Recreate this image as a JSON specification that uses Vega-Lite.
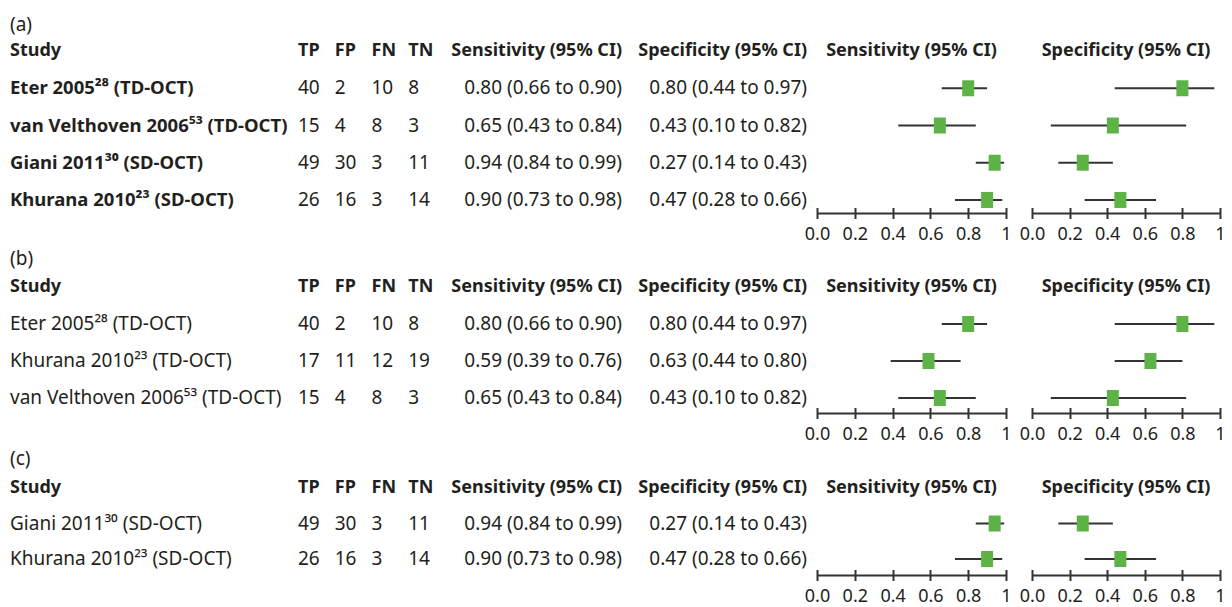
{
"$schema": "https://vega.github.io/schema/vega-lite/v6.json",
"background": "white",
"padding": {"left": 10, "top": 16, "right": 5, "bottom": 5},
"config": {
  "view": {"stroke": null},
  "font": "Noto Sans",
  "text": {"font": "Noto Sans", "fontSize": 19, "color": "#231f20", "baseline": "middle"},
  "title": {"font": "Noto Sans", "fontSize": 19, "fontWeight": "normal", "color": "#231f20", "anchor": "start", "frame": "group", "offset": 3}
},
"datasets": {
  "a": [
    {"r": "1", "study": "Eter 2005\u00b2\u2078 (TD-OCT)", "TP": 40, "FP": 2, "FN": 10, "TN": 8, "se": 0.80, "seLo": 0.66, "seHi": 0.90, "sp": 0.80, "spLo": 0.44, "spHi": 0.97, "seCI": "0.80 (0.66 to 0.90)", "spCI": "0.80 (0.44 to 0.97)"},
    {"r": "2", "study": "van Velthoven 2006\u2075\u00b3 (TD-OCT)", "TP": 15, "FP": 4, "FN": 8, "TN": 3, "se": 0.65, "seLo": 0.43, "seHi": 0.84, "sp": 0.43, "spLo": 0.10, "spHi": 0.82, "seCI": "0.65 (0.43 to 0.84)", "spCI": "0.43 (0.10 to 0.82)"},
    {"r": "3", "study": "Giani 2011\u00b3\u2070 (SD-OCT)", "TP": 49, "FP": 30, "FN": 3, "TN": 11, "se": 0.94, "seLo": 0.84, "seHi": 0.99, "sp": 0.27, "spLo": 0.14, "spHi": 0.43, "seCI": "0.94 (0.84 to 0.99)", "spCI": "0.27 (0.14 to 0.43)"},
    {"r": "4", "study": "Khurana 2010\u00b2\u00b3 (SD-OCT)", "TP": 26, "FP": 16, "FN": 3, "TN": 14, "se": 0.90, "seLo": 0.73, "seHi": 0.98, "sp": 0.47, "spLo": 0.28, "spHi": 0.66, "seCI": "0.90 (0.73 to 0.98)", "spCI": "0.47 (0.28 to 0.66)"}
  ],
  "b": [
    {"r": "1", "study": "Eter 2005\u00b2\u2078 (TD-OCT)", "TP": 40, "FP": 2, "FN": 10, "TN": 8, "se": 0.80, "seLo": 0.66, "seHi": 0.90, "sp": 0.80, "spLo": 0.44, "spHi": 0.97, "seCI": "0.80 (0.66 to 0.90)", "spCI": "0.80 (0.44 to 0.97)"},
    {"r": "2", "study": "Khurana 2010\u00b2\u00b3 (TD-OCT)", "TP": 17, "FP": 11, "FN": 12, "TN": 19, "se": 0.59, "seLo": 0.39, "seHi": 0.76, "sp": 0.63, "spLo": 0.44, "spHi": 0.80, "seCI": "0.59 (0.39 to 0.76)", "spCI": "0.63 (0.44 to 0.80)"},
    {"r": "3", "study": "van Velthoven 2006\u2075\u00b3 (TD-OCT)", "TP": 15, "FP": 4, "FN": 8, "TN": 3, "se": 0.65, "seLo": 0.43, "seHi": 0.84, "sp": 0.43, "spLo": 0.10, "spHi": 0.82, "seCI": "0.65 (0.43 to 0.84)", "spCI": "0.43 (0.10 to 0.82)"}
  ],
  "c": [
    {"r": "1", "study": "Giani 2011\u00b3\u2070 (SD-OCT)", "TP": 49, "FP": 30, "FN": 3, "TN": 11, "se": 0.94, "seLo": 0.84, "seHi": 0.99, "sp": 0.27, "spLo": 0.14, "spHi": 0.43, "seCI": "0.94 (0.84 to 0.99)", "spCI": "0.27 (0.14 to 0.43)"},
    {"r": "2", "study": "Khurana 2010\u00b2\u00b3 (SD-OCT)", "TP": 26, "FP": 16, "FN": 3, "TN": 14, "se": 0.90, "seLo": 0.73, "seHi": 0.98, "sp": 0.47, "spLo": 0.28, "spHi": 0.66, "seCI": "0.90 (0.73 to 0.98)", "spCI": "0.47 (0.28 to 0.66)"}
  ]
},
"columns": 7,
"spacing": {"row": 59, "column": 10},
"bounds": "flush",
"concat": [
   {"width": 278, "height": 175, "title": {"text": "(a)"}, "layer": [
     {"data": {"values": [{"t": "Study"}]}, "mark": {"type": "text", "align": "left", "fontWeight": "bold", "fontSize": 18},
      "encoding": {"x": {"datum": 0, "type": "quantitative", "scale": {"domain": [0, 1]}, "axis": null}, "y": {"datum": "h", "type": "ordinal", "scale": {"type": "point", "domain": ["h", "1", "2", "3", "4"], "padding": 0.35}, "axis": null}, "text": {"field": "t", "type": "nominal"}}},
     {"data": {"name": "a"}, "mark": {"type": "text", "align": "left", "fontWeight": "bold", "fontSize": 18.5},
      "encoding": {"x": {"datum": 0, "type": "quantitative", "scale": {"domain": [0, 1]}, "axis": null}, "y": {"field": "r", "type": "ordinal", "scale": {"type": "point", "domain": ["h", "1", "2", "3", "4"], "padding": 0.35}, "axis": null}, "text": {"field": "study", "type": "nominal"}}}
   ]},
   {"width": 147, "height": 175, "layer": [
     {"data": {"values": [{"k": "TP"}, {"k": "FP"}, {"k": "FN"}, {"k": "TN"}]}, "mark": {"type": "text", "align": "left", "fontWeight": "bold", "fontSize": 18},
      "encoding": {"x": {"field": "k", "type": "nominal", "bandPosition": 0, "scale": {"type": "band", "domain": ["TP", "FP", "FN", "TN"], "paddingInner": 0, "paddingOuter": 0}, "axis": null}, "y": {"datum": "h", "type": "ordinal", "scale": {"type": "point", "domain": ["h", "1", "2", "3", "4"], "padding": 0.35}, "axis": null}, "text": {"field": "k", "type": "nominal"}}},
     {"data": {"name": "a"}, "transform": [{"fold": ["TP", "FP", "FN", "TN"], "as": ["k", "v"]}], "mark": {"type": "text", "align": "left"},
      "encoding": {"x": {"field": "k", "type": "nominal", "bandPosition": 0, "scale": {"type": "band", "domain": ["TP", "FP", "FN", "TN"], "paddingInner": 0, "paddingOuter": 0}, "axis": null}, "y": {"field": "r", "type": "ordinal", "scale": {"type": "point", "domain": ["h", "1", "2", "3", "4"], "padding": 0.35}, "axis": null}, "text": {"field": "v", "type": "nominal"}}}
   ]},
   {"width": 167, "height": 175, "layer": [
     {"data": {"values": [{"t": "Sensitivity (95% CI)"}]}, "mark": {"type": "text", "align": "right", "fontWeight": "bold", "fontSize": 18},
      "encoding": {"x": {"datum": 1, "type": "quantitative", "scale": {"domain": [0, 1]}, "axis": null}, "y": {"datum": "h", "type": "ordinal", "scale": {"type": "point", "domain": ["h", "1", "2", "3", "4"], "padding": 0.35}, "axis": null}, "text": {"field": "t", "type": "nominal"}}},
     {"data": {"name": "a"}, "mark": {"type": "text", "align": "right"},
      "encoding": {"x": {"datum": 1, "type": "quantitative", "scale": {"domain": [0, 1]}, "axis": null}, "y": {"field": "r", "type": "ordinal", "scale": {"type": "point", "domain": ["h", "1", "2", "3", "4"], "padding": 0.35}, "axis": null}, "text": {"field": "seCI", "type": "nominal"}}}
   ]},
   {"width": 175, "height": 175, "layer": [
     {"data": {"values": [{"t": "Specificity (95% CI)"}]}, "mark": {"type": "text", "align": "right", "fontWeight": "bold", "fontSize": 18},
      "encoding": {"x": {"datum": 1, "type": "quantitative", "scale": {"domain": [0, 1]}, "axis": null}, "y": {"datum": "h", "type": "ordinal", "scale": {"type": "point", "domain": ["h", "1", "2", "3", "4"], "padding": 0.35}, "axis": null}, "text": {"field": "t", "type": "nominal"}}},
     {"data": {"name": "a"}, "mark": {"type": "text", "align": "right"},
      "encoding": {"x": {"datum": 1, "type": "quantitative", "scale": {"domain": [0, 1]}, "axis": null}, "y": {"field": "r", "type": "ordinal", "scale": {"type": "point", "domain": ["h", "1", "2", "3", "4"], "padding": 0.35}, "axis": null}, "text": {"field": "spCI", "type": "nominal"}}}
   ]},
   {"width": 189, "height": 175, "resolve": {"axis": {"x": "independent"}}, "layer": [
     {"data": {"values": [{"t": "Sensitivity (95% CI)"}]}, "mark": {"type": "text", "align": "center", "fontWeight": "bold", "fontSize": 18},
      "encoding": {"x": {"datum": 0.5, "type": "quantitative", "scale": {"domain": [0, 1], "nice": false}, "axis": null}, "y": {"datum": "h", "type": "ordinal", "scale": {"type": "point", "domain": ["h", "1", "2", "3", "4"], "padding": 0.35}, "axis": null}, "text": {"field": "t", "type": "nominal"}}},
     {"data": {"name": "a"}, "mark": {"type": "rule", "strokeWidth": 2, "color": "#333333"},
      "encoding": {"x": {"field": "seLo", "type": "quantitative", "scale": {"domain": [0, 1], "nice": false}, "axis": {"orient": "bottom", "values": [0, 0.2, 0.4, 0.6, 0.8, 1], "title": null, "grid": false, "domain": true, "domainColor": "#333333", "domainWidth": 2, "ticks": false, "tickSize": 0, "labelExpr": "datum.value == 1 ? '1' : format(datum.value, '.1f')", "labelFontSize": 18, "labelFont": "Noto Sans", "labelColor": "#231f20", "labelPadding": 12, "labelFlush": false, "labelOverlap": false}}, "x2": {"field": "seHi"}, "y": {"field": "r", "type": "ordinal", "scale": {"type": "point", "domain": ["h", "1", "2", "3", "4"], "padding": 0.35}, "axis": null}}},
     {"data": {"name": "a"}, "mark": {"type": "point", "shape": "M-0.75,-1L0.75,-1L0.75,1L-0.75,1Z", "size": 256, "filled": true, "color": "#5db346", "opacity": 1, "strokeWidth": 0},
      "encoding": {"x": {"field": "se", "type": "quantitative", "scale": {"domain": [0, 1], "nice": false}, "axis": {"orient": "bottom", "values": [0, 0.2, 0.4, 0.6, 0.8, 1], "title": null, "grid": false, "domain": false, "ticks": true, "tickSize": 11, "tickWidth": 2, "tickColor": "#333333", "labels": false, "offset": -5.5}}, "y": {"field": "r", "type": "ordinal", "scale": {"type": "point", "domain": ["h", "1", "2", "3", "4"], "padding": 0.35}, "axis": null}}}
   ]},
   {"width": 6, "height": 175, "data": {"values": []}, "mark": "text", "encoding": {}},
   {"width": 188, "height": 175, "resolve": {"axis": {"x": "independent"}}, "layer": [
     {"data": {"values": [{"t": "Specificity (95% CI)"}]}, "mark": {"type": "text", "align": "center", "fontWeight": "bold", "fontSize": 18},
      "encoding": {"x": {"datum": 0.5, "type": "quantitative", "scale": {"domain": [0, 1], "nice": false}, "axis": null}, "y": {"datum": "h", "type": "ordinal", "scale": {"type": "point", "domain": ["h", "1", "2", "3", "4"], "padding": 0.35}, "axis": null}, "text": {"field": "t", "type": "nominal"}}},
     {"data": {"name": "a"}, "mark": {"type": "rule", "strokeWidth": 2, "color": "#333333"},
      "encoding": {"x": {"field": "spLo", "type": "quantitative", "scale": {"domain": [0, 1], "nice": false}, "axis": {"orient": "bottom", "values": [0, 0.2, 0.4, 0.6, 0.8, 1], "title": null, "grid": false, "domain": true, "domainColor": "#333333", "domainWidth": 2, "ticks": false, "tickSize": 0, "labelExpr": "datum.value == 1 ? '1' : format(datum.value, '.1f')", "labelFontSize": 18, "labelFont": "Noto Sans", "labelColor": "#231f20", "labelPadding": 12, "labelFlush": false, "labelOverlap": false}}, "x2": {"field": "spHi"}, "y": {"field": "r", "type": "ordinal", "scale": {"type": "point", "domain": ["h", "1", "2", "3", "4"], "padding": 0.35}, "axis": null}}},
     {"data": {"name": "a"}, "mark": {"type": "point", "shape": "M-0.75,-1L0.75,-1L0.75,1L-0.75,1Z", "size": 256, "filled": true, "color": "#5db346", "opacity": 1, "strokeWidth": 0},
      "encoding": {"x": {"field": "sp", "type": "quantitative", "scale": {"domain": [0, 1], "nice": false}, "axis": {"orient": "bottom", "values": [0, 0.2, 0.4, 0.6, 0.8, 1], "title": null, "grid": false, "domain": false, "ticks": true, "tickSize": 11, "tickWidth": 2, "tickColor": "#333333", "labels": false, "offset": -5.5}}, "y": {"field": "r", "type": "ordinal", "scale": {"type": "point", "domain": ["h", "1", "2", "3", "4"], "padding": 0.35}, "axis": null}}}
   ]},

   {"width": 278, "height": 141, "title": {"text": "(b)"}, "layer": [
     {"data": {"values": [{"t": "Study"}]}, "mark": {"type": "text", "align": "left", "fontWeight": "bold", "fontSize": 18},
      "encoding": {"x": {"datum": 0, "type": "quantitative", "scale": {"domain": [0, 1]}, "axis": null}, "y": {"datum": "h", "type": "ordinal", "scale": {"type": "point", "domain": ["h", "1", "2", "3"], "padding": 0.405}, "axis": null}, "text": {"field": "t", "type": "nominal"}}},
     {"data": {"name": "b"}, "mark": {"type": "text", "align": "left"},
      "encoding": {"x": {"datum": 0, "type": "quantitative", "scale": {"domain": [0, 1]}, "axis": null}, "y": {"field": "r", "type": "ordinal", "scale": {"type": "point", "domain": ["h", "1", "2", "3"], "padding": 0.405}, "axis": null}, "text": {"field": "study", "type": "nominal"}}}
   ]},
   {"width": 147, "height": 141, "layer": [
     {"data": {"values": [{"k": "TP"}, {"k": "FP"}, {"k": "FN"}, {"k": "TN"}]}, "mark": {"type": "text", "align": "left", "fontWeight": "bold", "fontSize": 18},
      "encoding": {"x": {"field": "k", "type": "nominal", "bandPosition": 0, "scale": {"type": "band", "domain": ["TP", "FP", "FN", "TN"], "paddingInner": 0, "paddingOuter": 0}, "axis": null}, "y": {"datum": "h", "type": "ordinal", "scale": {"type": "point", "domain": ["h", "1", "2", "3"], "padding": 0.405}, "axis": null}, "text": {"field": "k", "type": "nominal"}}},
     {"data": {"name": "b"}, "transform": [{"fold": ["TP", "FP", "FN", "TN"], "as": ["k", "v"]}], "mark": {"type": "text", "align": "left"},
      "encoding": {"x": {"field": "k", "type": "nominal", "bandPosition": 0, "scale": {"type": "band", "domain": ["TP", "FP", "FN", "TN"], "paddingInner": 0, "paddingOuter": 0}, "axis": null}, "y": {"field": "r", "type": "ordinal", "scale": {"type": "point", "domain": ["h", "1", "2", "3"], "padding": 0.405}, "axis": null}, "text": {"field": "v", "type": "nominal"}}}
   ]},
   {"width": 167, "height": 141, "layer": [
     {"data": {"values": [{"t": "Sensitivity (95% CI)"}]}, "mark": {"type": "text", "align": "right", "fontWeight": "bold", "fontSize": 18},
      "encoding": {"x": {"datum": 1, "type": "quantitative", "scale": {"domain": [0, 1]}, "axis": null}, "y": {"datum": "h", "type": "ordinal", "scale": {"type": "point", "domain": ["h", "1", "2", "3"], "padding": 0.405}, "axis": null}, "text": {"field": "t", "type": "nominal"}}},
     {"data": {"name": "b"}, "mark": {"type": "text", "align": "right"},
      "encoding": {"x": {"datum": 1, "type": "quantitative", "scale": {"domain": [0, 1]}, "axis": null}, "y": {"field": "r", "type": "ordinal", "scale": {"type": "point", "domain": ["h", "1", "2", "3"], "padding": 0.405}, "axis": null}, "text": {"field": "seCI", "type": "nominal"}}}
   ]},
   {"width": 175, "height": 141, "layer": [
     {"data": {"values": [{"t": "Specificity (95% CI)"}]}, "mark": {"type": "text", "align": "right", "fontWeight": "bold", "fontSize": 18},
      "encoding": {"x": {"datum": 1, "type": "quantitative", "scale": {"domain": [0, 1]}, "axis": null}, "y": {"datum": "h", "type": "ordinal", "scale": {"type": "point", "domain": ["h", "1", "2", "3"], "padding": 0.405}, "axis": null}, "text": {"field": "t", "type": "nominal"}}},
     {"data": {"name": "b"}, "mark": {"type": "text", "align": "right"},
      "encoding": {"x": {"datum": 1, "type": "quantitative", "scale": {"domain": [0, 1]}, "axis": null}, "y": {"field": "r", "type": "ordinal", "scale": {"type": "point", "domain": ["h", "1", "2", "3"], "padding": 0.405}, "axis": null}, "text": {"field": "spCI", "type": "nominal"}}}
   ]},
   {"width": 189, "height": 141, "resolve": {"axis": {"x": "independent"}}, "layer": [
     {"data": {"values": [{"t": "Sensitivity (95% CI)"}]}, "mark": {"type": "text", "align": "center", "fontWeight": "bold", "fontSize": 18},
      "encoding": {"x": {"datum": 0.5, "type": "quantitative", "scale": {"domain": [0, 1], "nice": false}, "axis": null}, "y": {"datum": "h", "type": "ordinal", "scale": {"type": "point", "domain": ["h", "1", "2", "3"], "padding": 0.405}, "axis": null}, "text": {"field": "t", "type": "nominal"}}},
     {"data": {"name": "b"}, "mark": {"type": "rule", "strokeWidth": 2, "color": "#333333"},
      "encoding": {"x": {"field": "seLo", "type": "quantitative", "scale": {"domain": [0, 1], "nice": false}, "axis": {"orient": "bottom", "values": [0, 0.2, 0.4, 0.6, 0.8, 1], "title": null, "grid": false, "domain": true, "domainColor": "#333333", "domainWidth": 2, "ticks": false, "tickSize": 0, "labelExpr": "datum.value == 1 ? '1' : format(datum.value, '.1f')", "labelFontSize": 18, "labelFont": "Noto Sans", "labelColor": "#231f20", "labelPadding": 12, "labelFlush": false, "labelOverlap": false}}, "x2": {"field": "seHi"}, "y": {"field": "r", "type": "ordinal", "scale": {"type": "point", "domain": ["h", "1", "2", "3"], "padding": 0.405}, "axis": null}}},
     {"data": {"name": "b"}, "mark": {"type": "point", "shape": "M-0.75,-1L0.75,-1L0.75,1L-0.75,1Z", "size": 256, "filled": true, "color": "#5db346", "opacity": 1, "strokeWidth": 0},
      "encoding": {"x": {"field": "se", "type": "quantitative", "scale": {"domain": [0, 1], "nice": false}, "axis": {"orient": "bottom", "values": [0, 0.2, 0.4, 0.6, 0.8, 1], "title": null, "grid": false, "domain": false, "ticks": true, "tickSize": 11, "tickWidth": 2, "tickColor": "#333333", "labels": false, "offset": -5.5}}, "y": {"field": "r", "type": "ordinal", "scale": {"type": "point", "domain": ["h", "1", "2", "3"], "padding": 0.405}, "axis": null}}}
   ]},
   {"width": 6, "height": 141, "data": {"values": []}, "mark": "text", "encoding": {}},
   {"width": 188, "height": 141, "resolve": {"axis": {"x": "independent"}}, "layer": [
     {"data": {"values": [{"t": "Specificity (95% CI)"}]}, "mark": {"type": "text", "align": "center", "fontWeight": "bold", "fontSize": 18},
      "encoding": {"x": {"datum": 0.5, "type": "quantitative", "scale": {"domain": [0, 1], "nice": false}, "axis": null}, "y": {"datum": "h", "type": "ordinal", "scale": {"type": "point", "domain": ["h", "1", "2", "3"], "padding": 0.405}, "axis": null}, "text": {"field": "t", "type": "nominal"}}},
     {"data": {"name": "b"}, "mark": {"type": "rule", "strokeWidth": 2, "color": "#333333"},
      "encoding": {"x": {"field": "spLo", "type": "quantitative", "scale": {"domain": [0, 1], "nice": false}, "axis": {"orient": "bottom", "values": [0, 0.2, 0.4, 0.6, 0.8, 1], "title": null, "grid": false, "domain": true, "domainColor": "#333333", "domainWidth": 2, "ticks": false, "tickSize": 0, "labelExpr": "datum.value == 1 ? '1' : format(datum.value, '.1f')", "labelFontSize": 18, "labelFont": "Noto Sans", "labelColor": "#231f20", "labelPadding": 12, "labelFlush": false, "labelOverlap": false}}, "x2": {"field": "spHi"}, "y": {"field": "r", "type": "ordinal", "scale": {"type": "point", "domain": ["h", "1", "2", "3"], "padding": 0.405}, "axis": null}}},
     {"data": {"name": "b"}, "mark": {"type": "point", "shape": "M-0.75,-1L0.75,-1L0.75,1L-0.75,1Z", "size": 256, "filled": true, "color": "#5db346", "opacity": 1, "strokeWidth": 0},
      "encoding": {"x": {"field": "sp", "type": "quantitative", "scale": {"domain": [0, 1], "nice": false}, "axis": {"orient": "bottom", "values": [0, 0.2, 0.4, 0.6, 0.8, 1], "title": null, "grid": false, "domain": false, "ticks": true, "tickSize": 11, "tickWidth": 2, "tickColor": "#333333", "labels": false, "offset": -5.5}}, "y": {"field": "r", "type": "ordinal", "scale": {"type": "point", "domain": ["h", "1", "2", "3"], "padding": 0.405}, "axis": null}}}
   ]},

   {"width": 278, "height": 103, "title": {"text": "(c)"}, "layer": [
     {"data": {"values": [{"t": "Study"}]}, "mark": {"type": "text", "align": "left", "fontWeight": "bold", "fontSize": 18},
      "encoding": {"x": {"datum": 0, "type": "quantitative", "scale": {"domain": [0, 1]}, "axis": null}, "y": {"datum": "h", "type": "ordinal", "scale": {"type": "point", "domain": ["h", "1", "2"], "padding": 0.45}, "axis": null}, "text": {"field": "t", "type": "nominal"}}},
     {"data": {"name": "c"}, "mark": {"type": "text", "align": "left"},
      "encoding": {"x": {"datum": 0, "type": "quantitative", "scale": {"domain": [0, 1]}, "axis": null}, "y": {"field": "r", "type": "ordinal", "scale": {"type": "point", "domain": ["h", "1", "2"], "padding": 0.45}, "axis": null}, "text": {"field": "study", "type": "nominal"}}}
   ]},
   {"width": 147, "height": 103, "layer": [
     {"data": {"values": [{"k": "TP"}, {"k": "FP"}, {"k": "FN"}, {"k": "TN"}]}, "mark": {"type": "text", "align": "left", "fontWeight": "bold", "fontSize": 18},
      "encoding": {"x": {"field": "k", "type": "nominal", "bandPosition": 0, "scale": {"type": "band", "domain": ["TP", "FP", "FN", "TN"], "paddingInner": 0, "paddingOuter": 0}, "axis": null}, "y": {"datum": "h", "type": "ordinal", "scale": {"type": "point", "domain": ["h", "1", "2"], "padding": 0.45}, "axis": null}, "text": {"field": "k", "type": "nominal"}}},
     {"data": {"name": "c"}, "transform": [{"fold": ["TP", "FP", "FN", "TN"], "as": ["k", "v"]}], "mark": {"type": "text", "align": "left"},
      "encoding": {"x": {"field": "k", "type": "nominal", "bandPosition": 0, "scale": {"type": "band", "domain": ["TP", "FP", "FN", "TN"], "paddingInner": 0, "paddingOuter": 0}, "axis": null}, "y": {"field": "r", "type": "ordinal", "scale": {"type": "point", "domain": ["h", "1", "2"], "padding": 0.45}, "axis": null}, "text": {"field": "v", "type": "nominal"}}}
   ]},
   {"width": 167, "height": 103, "layer": [
     {"data": {"values": [{"t": "Sensitivity (95% CI)"}]}, "mark": {"type": "text", "align": "right", "fontWeight": "bold", "fontSize": 18},
      "encoding": {"x": {"datum": 1, "type": "quantitative", "scale": {"domain": [0, 1]}, "axis": null}, "y": {"datum": "h", "type": "ordinal", "scale": {"type": "point", "domain": ["h", "1", "2"], "padding": 0.45}, "axis": null}, "text": {"field": "t", "type": "nominal"}}},
     {"data": {"name": "c"}, "mark": {"type": "text", "align": "right"},
      "encoding": {"x": {"datum": 1, "type": "quantitative", "scale": {"domain": [0, 1]}, "axis": null}, "y": {"field": "r", "type": "ordinal", "scale": {"type": "point", "domain": ["h", "1", "2"], "padding": 0.45}, "axis": null}, "text": {"field": "seCI", "type": "nominal"}}}
   ]},
   {"width": 175, "height": 103, "layer": [
     {"data": {"values": [{"t": "Specificity (95% CI)"}]}, "mark": {"type": "text", "align": "right", "fontWeight": "bold", "fontSize": 18},
      "encoding": {"x": {"datum": 1, "type": "quantitative", "scale": {"domain": [0, 1]}, "axis": null}, "y": {"datum": "h", "type": "ordinal", "scale": {"type": "point", "domain": ["h", "1", "2"], "padding": 0.45}, "axis": null}, "text": {"field": "t", "type": "nominal"}}},
     {"data": {"name": "c"}, "mark": {"type": "text", "align": "right"},
      "encoding": {"x": {"datum": 1, "type": "quantitative", "scale": {"domain": [0, 1]}, "axis": null}, "y": {"field": "r", "type": "ordinal", "scale": {"type": "point", "domain": ["h", "1", "2"], "padding": 0.45}, "axis": null}, "text": {"field": "spCI", "type": "nominal"}}}
   ]},
   {"width": 189, "height": 103, "resolve": {"axis": {"x": "independent"}}, "layer": [
     {"data": {"values": [{"t": "Sensitivity (95% CI)"}]}, "mark": {"type": "text", "align": "center", "fontWeight": "bold", "fontSize": 18},
      "encoding": {"x": {"datum": 0.5, "type": "quantitative", "scale": {"domain": [0, 1], "nice": false}, "axis": null}, "y": {"datum": "h", "type": "ordinal", "scale": {"type": "point", "domain": ["h", "1", "2"], "padding": 0.45}, "axis": null}, "text": {"field": "t", "type": "nominal"}}},
     {"data": {"name": "c"}, "mark": {"type": "rule", "strokeWidth": 2, "color": "#333333"},
      "encoding": {"x": {"field": "seLo", "type": "quantitative", "scale": {"domain": [0, 1], "nice": false}, "axis": {"orient": "bottom", "values": [0, 0.2, 0.4, 0.6, 0.8, 1], "title": null, "grid": false, "domain": true, "domainColor": "#333333", "domainWidth": 2, "ticks": false, "tickSize": 0, "labelExpr": "datum.value == 1 ? '1' : format(datum.value, '.1f')", "labelFontSize": 18, "labelFont": "Noto Sans", "labelColor": "#231f20", "labelPadding": 12, "labelFlush": false, "labelOverlap": false}}, "x2": {"field": "seHi"}, "y": {"field": "r", "type": "ordinal", "scale": {"type": "point", "domain": ["h", "1", "2"], "padding": 0.45}, "axis": null}}},
     {"data": {"name": "c"}, "mark": {"type": "point", "shape": "M-0.75,-1L0.75,-1L0.75,1L-0.75,1Z", "size": 256, "filled": true, "color": "#5db346", "opacity": 1, "strokeWidth": 0},
      "encoding": {"x": {"field": "se", "type": "quantitative", "scale": {"domain": [0, 1], "nice": false}, "axis": {"orient": "bottom", "values": [0, 0.2, 0.4, 0.6, 0.8, 1], "title": null, "grid": false, "domain": false, "ticks": true, "tickSize": 11, "tickWidth": 2, "tickColor": "#333333", "labels": false, "offset": -5.5}}, "y": {"field": "r", "type": "ordinal", "scale": {"type": "point", "domain": ["h", "1", "2"], "padding": 0.45}, "axis": null}}}
   ]},
   {"width": 6, "height": 103, "data": {"values": []}, "mark": "text", "encoding": {}},
   {"width": 188, "height": 103, "resolve": {"axis": {"x": "independent"}}, "layer": [
     {"data": {"values": [{"t": "Specificity (95% CI)"}]}, "mark": {"type": "text", "align": "center", "fontWeight": "bold", "fontSize": 18},
      "encoding": {"x": {"datum": 0.5, "type": "quantitative", "scale": {"domain": [0, 1], "nice": false}, "axis": null}, "y": {"datum": "h", "type": "ordinal", "scale": {"type": "point", "domain": ["h", "1", "2"], "padding": 0.45}, "axis": null}, "text": {"field": "t", "type": "nominal"}}},
     {"data": {"name": "c"}, "mark": {"type": "rule", "strokeWidth": 2, "color": "#333333"},
      "encoding": {"x": {"field": "spLo", "type": "quantitative", "scale": {"domain": [0, 1], "nice": false}, "axis": {"orient": "bottom", "values": [0, 0.2, 0.4, 0.6, 0.8, 1], "title": null, "grid": false, "domain": true, "domainColor": "#333333", "domainWidth": 2, "ticks": false, "tickSize": 0, "labelExpr": "datum.value == 1 ? '1' : format(datum.value, '.1f')", "labelFontSize": 18, "labelFont": "Noto Sans", "labelColor": "#231f20", "labelPadding": 12, "labelFlush": false, "labelOverlap": false}}, "x2": {"field": "spHi"}, "y": {"field": "r", "type": "ordinal", "scale": {"type": "point", "domain": ["h", "1", "2"], "padding": 0.45}, "axis": null}}},
     {"data": {"name": "c"}, "mark": {"type": "point", "shape": "M-0.75,-1L0.75,-1L0.75,1L-0.75,1Z", "size": 256, "filled": true, "color": "#5db346", "opacity": 1, "strokeWidth": 0},
      "encoding": {"x": {"field": "sp", "type": "quantitative", "scale": {"domain": [0, 1], "nice": false}, "axis": {"orient": "bottom", "values": [0, 0.2, 0.4, 0.6, 0.8, 1], "title": null, "grid": false, "domain": false, "ticks": true, "tickSize": 11, "tickWidth": 2, "tickColor": "#333333", "labels": false, "offset": -5.5}}, "y": {"field": "r", "type": "ordinal", "scale": {"type": "point", "domain": ["h", "1", "2"], "padding": 0.45}, "axis": null}}}
   ]}
]
}
